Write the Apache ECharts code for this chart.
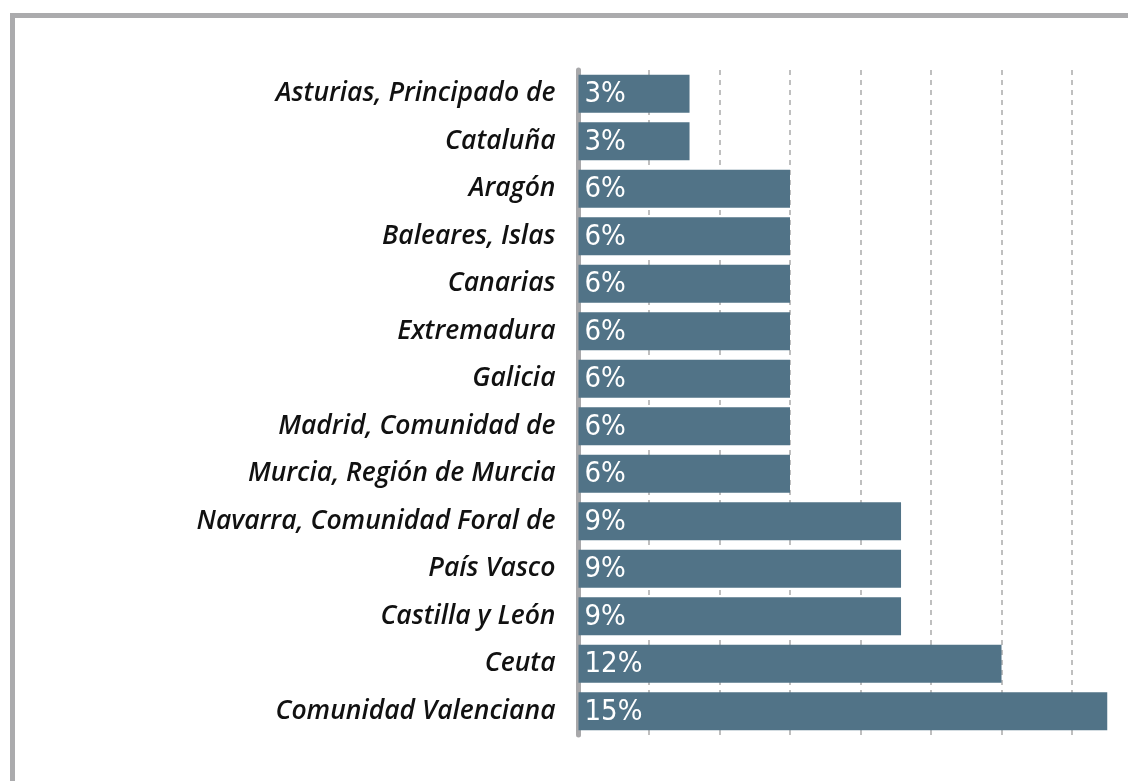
<!DOCTYPE html>
<html>
<head>
<meta charset="utf-8">
<script src="https://cdn.jsdelivr.net/npm/echarts@6/dist/echarts.min.js"></script>
<style>
  html, body { margin: 0; padding: 0; background: #fff; }
  #chart { width: 1128px; height: 781px; }
</style>
</head>
<body>
<div id="chart"></div>
<script>
// regiones, de arriba a abajo
const regions = [
  'Asturias, Principado de', 'Cataluña', 'Aragón', 'Baleares, Islas', 'Canarias',
  'Extremadura', 'Galicia', 'Madrid, Comunidad de', 'Murcia, Región de Murcia',
  'Navarra, Comunidad Foral de', 'País Vasco', 'Castilla y León', 'Ceuta',
  'Comunidad Valenciana'
];
const shares = [3.15, 3.15, 6, 6, 6, 6, 6, 6, 6, 9.15, 9.15, 9.15, 12, 15];
const shareLabels = ['3%', '3%', '6%', '6%', '6%', '6%', '6%', '6%', '6%', '9%', '9%', '9%', '12%', '15%'];

const chart = echarts.init(document.getElementById('chart'));

chart.setOption({
  animation: false,
  // eje hasta 16%, la última línea queda fuera del marco
  grid: { left: 578.5, width: 564, top: 70, bottom: 46, outerBoundsMode: 'none' },
  xAxis: {
    type: 'value',
    min: 0,
    max: 16,
    interval: 2,
    axisLine: { show: false },
    axisTick: { show: false },
    axisLabel: { show: false },
    splitLine: { lineStyle: { color: '#ababab', type: [5, 5], width: 1.5 } },
  },
  yAxis: {
    type: 'category',
    data: regions,
    inverse: true,
    axisLine: { lineStyle: { color: '#a8a8aa', width: 5 } },
    axisTick: { show: false },
    axisLabel: {
      margin: 23,
      color: '#111',
      fontFamily: 'Open Sans',
      fontStyle: 'italic',
      fontWeight: 600,
      fontSize: 26.5,
    },
  },
  series: [{
    type: 'bar',
    data: shares,
    barCategoryGap: '20%',
    itemStyle: { color: '#517387' },
    label: {
      show: true,
      position: 'insideLeft',
      offset: [1, 1],
      color: '#fff',
      fontFamily: '"DejaVu Sans Condensed", Roboto, sans-serif',
      fontSize: 29,
      formatter: p => shareLabels[p.dataIndex],
    },
  }],
  graphic: [
    { type: 'rect', shape: { x: 10, y: 13, width: 1120, height: 5 }, style: { fill: '#ababad' } },
    { type: 'rect', shape: { x: 10, y: 13, width: 5, height: 770 }, style: { fill: '#ababad' } },
  ],
});
</script>
</body>
</html>
